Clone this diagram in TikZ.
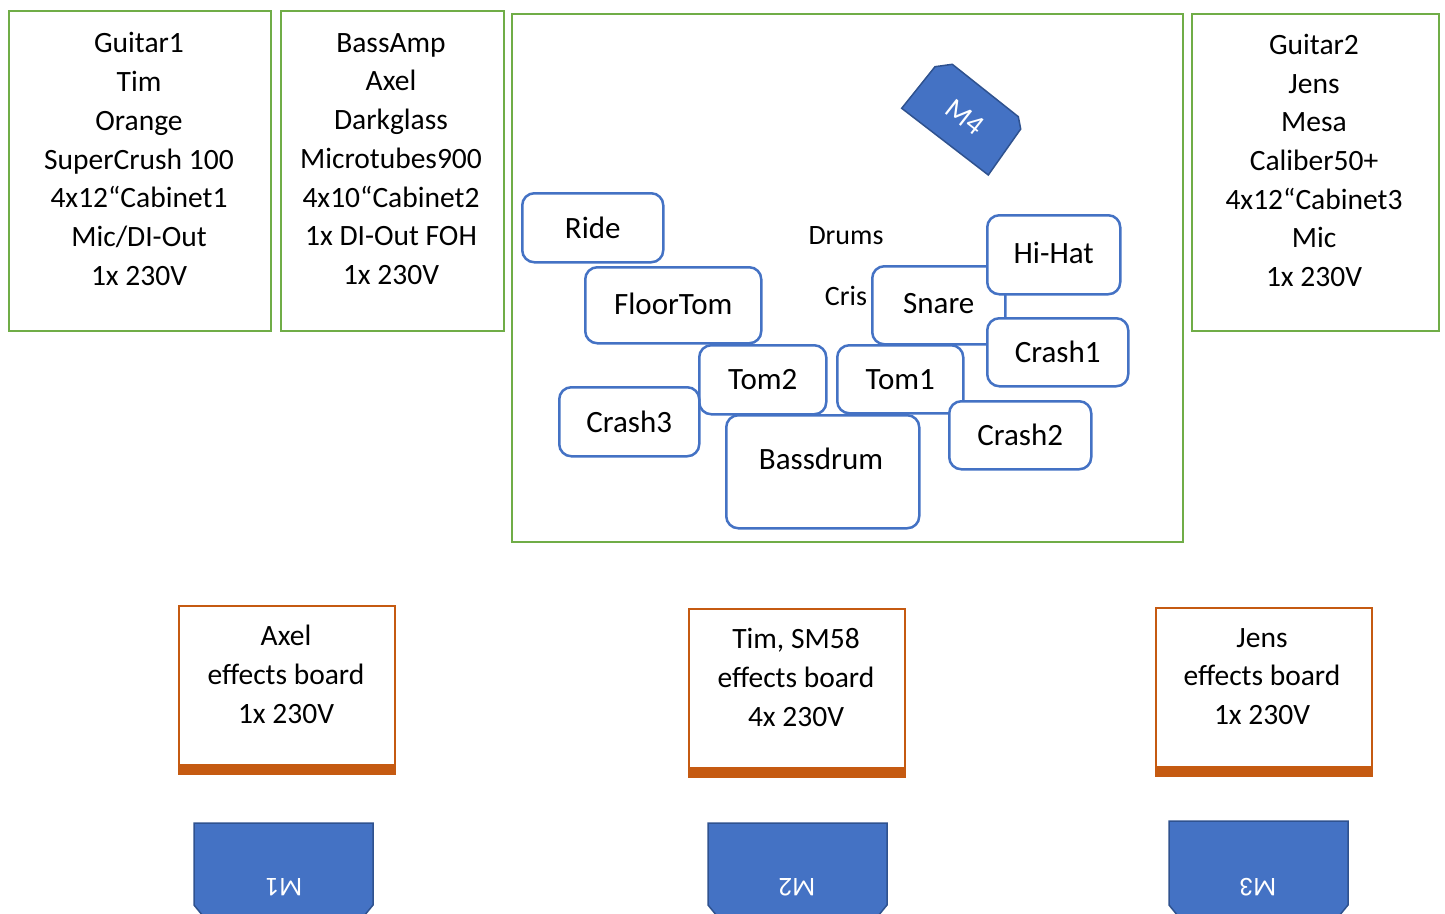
\documentclass[tikz,border=0pt]{standalone}
\usepackage{fontspec}
\setmainfont{Carlito}
\definecolor{sgreen}{HTML}{70AD47}
\definecolor{sblue}{HTML}{4472C4}
\definecolor{sdblue}{HTML}{2F528F}
\definecolor{sorange}{HTML}{C55A11}
\tikzset{
  gbox/.style={draw=sgreen, line width=2pt, anchor=north west, inner sep=0pt},
  dbox/.style={draw=sblue, line width=2.5pt, rounded corners=12pt, fill=white, anchor=north west, inner sep=0pt, font=\fontsize{31}{37}\selectfont},
  obox/.style={draw=sorange, line width=2pt, anchor=north west, inner sep=0pt, minimum width=216pt, minimum height=168pt},
  btxt/.style={align=center, inner sep=0pt, font=\fontsize{29.5}{38.7}\selectfont},
  mshape/.style={fill=sblue, draw=sdblue, line width=1.5pt},
  mlabel/.style={text=white, inner sep=0pt, font=\fontsize{27}{30}\selectfont}
}
\begin{document}
\begin{tikzpicture}[x=1pt,y=-1pt]
\useasboundingbox (0,0) rectangle (1445,913);
\clip (0,0) rectangle (1445,913);
% green boxes
\node[gbox, minimum width=262pt, minimum height=320pt] (g1) at (8,10) {};
\node[btxt] (g1t) at (139,159) {Guitar1\\Tim\\Orange\\SuperCrush 100\\4x12“Cabinet1\\Mic/DI-Out\\1x 230V};
\node[gbox, minimum width=223pt, minimum height=320pt] (ba) at (280,10) {};
\node[btxt] (bat) at (391,159) {BassAmp\\Axel\\Darkglass\\Microtubes900\\4x10“Cabinet2\\1x DI-Out FOH\\1x 230V};
\node[gbox, minimum width=671pt, minimum height=528pt] (dr) at (511,13) {};
\node[gbox, minimum width=247pt, minimum height=317pt] (g2) at (1191,13) {};
\node[btxt] (g2t) at (1314,160.5) {Guitar2\\Jens\\Mesa\\Caliber50+\\4x12“Cabinet3\\Mic\\1x 230V};
% M4
\path[mshape] (935,66.7) -- (952.3,64.3) -- (1018.3,116.7) -- (1020.7,129) -- (988.3,175) -- (901.7,108.3) -- cycle;
\node[mlabel, rotate=-38, font=\fontsize{29}{30}\selectfont] (m4) at (965,117) {M4};
% drums
\node[inner sep=0pt, font=\fontsize{28}{30}\selectfont] (drt) at (846,236) {Drums};
\node[inner sep=0pt, font=\fontsize{28}{30}\selectfont] (cris) at (846,296) {Cris};
\node[dbox, minimum width=141pt, minimum height=69pt] (ride) at (521,192) {Ride};
\node[dbox, minimum width=176pt, minimum height=76pt] (floor) at (584,266) {\raisebox{3pt}{FloorTom}};
\node[dbox, minimum width=133pt, minimum height=78pt] (snare) at (871,265) {\raisebox{3pt}{Snare}};
\node[dbox, minimum width=133pt, minimum height=79pt] (hihat) at (986,214) {\raisebox{4pt}{Hi-Hat}};
\node[dbox, minimum width=141pt, minimum height=68pt] (crash1) at (986,317) {Crash1};
\node[dbox, minimum width=126pt, minimum height=68pt] (tom1) at (836,344) {Tom1};
\node[dbox, minimum width=127pt, minimum height=69pt] (tom2) at (698,344) {Tom2};
\node[dbox, minimum width=140pt, minimum height=69pt] (crash3) at (558,386) {Crash3};
\node[dbox, minimum width=142pt, minimum height=68pt] (crash2) at (948,400) {Crash2};
\node[dbox, minimum width=193pt, minimum height=113pt] (bass) at (725,414) {};
\node[inner sep=0pt, font=\fontsize{31}{37}\selectfont] (basst) at (821,459) {Bassdrum};
% orange boxes
\node[obox] (ob1) at (178,605) {};
\fill[sorange] (ob1.south west) rectangle ([yshift=11pt]ob1.south east);
\node[btxt] (ob1t) at (286,674.5) {Axel\\effects board\\1x 230V};
\node[obox] (ob2) at (688,608) {};
\fill[sorange] (ob2.south west) rectangle ([yshift=11pt]ob2.south east);
\node[btxt] (ob2t) at (796,677.5) {Tim, SM58\\effects board\\4x 230V};
\node[obox] (ob3) at (1155,607) {};
\fill[sorange] (ob3.south west) rectangle ([yshift=11pt]ob3.south east);
\node[btxt] (ob3t) at (1262,676.5) {Jens\\effects board\\1x 230V};
% monitors
\path[mshape] (194,823) -- (373,823) -- (373,905) -- (364,916) -- (203,916) -- (194,905) -- cycle;
\node[mlabel, rotate=180] (m1) at (284,887) {M1};
\path[mshape] (708,823) -- (887,823) -- (887,905) -- (878,916) -- (717,916) -- (708,905) -- cycle;
\node[mlabel, rotate=180] (m2) at (797,887) {M2};
\path[mshape] (1169,821) -- (1348,821) -- (1348,905) -- (1339,916) -- (1178,916) -- (1169,905) -- cycle;
\node[mlabel, rotate=180] (m3) at (1258,887) {M3};
\end{tikzpicture}
\end{document}
